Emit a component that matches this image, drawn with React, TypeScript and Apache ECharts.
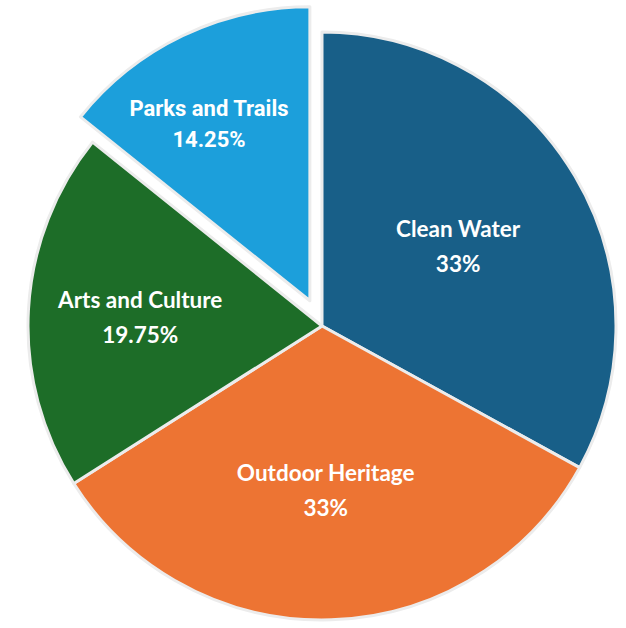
import React, { useEffect, useRef } from "react";
import * as echarts from "echarts";

const categories = ["Clean Water", "Outdoor Heritage", "Arts and Culture", "Parks and Trails"];
const values = [33, 33, 19.75, 14.25];
const colors = ["#185f88", "#ed7433", "#1d6d28", "#1c9fdb"];
const labelFonts = ["Lato", "Lato", "Lato", "Roboto"];
const labelShiftX = [7, -1, -32, -36];
const labelShiftY = [-4, 14, -1, -42];

export default function App() {
  const ref = useRef<HTMLDivElement>(null);
  useEffect(() => {
    if (!ref.current) return;
    const chart = echarts.init(ref.current, undefined, { renderer: "svg" });
    chart.setOption({
      animation: false,
      backgroundColor: "#ffffff",
      series: [
        {
          type: "pie",
          center: [322, 326],
          radius: [0, 294],
          startAngle: 90,
          clockwise: true,
          selectedMode: "single",
          selectedOffset: 28,
          avoidLabelOverlap: false,
          itemStyle: { borderColor: "#ececec", borderWidth: 3 },
          emphasis: { disabled: true },
          labelLine: { show: false },
          labelLayout: (p: any) => ({
            dx: labelShiftX[p.dataIndex],
            dy: labelShiftY[p.dataIndex],
          }),
          data: categories.map((name, i) => ({
            name,
            value: values[i],
            selected: i === 3,
            itemStyle: { color: colors[i] },
            label: {
              show: true,
              position: "inside",
              formatter: "{b}\n{c}%",
              color: "#ffffff",
              fontFamily: labelFonts[i],
              fontWeight: "bold",
              fontSize: i === 3 ? 22 : 22.5,
              lineHeight: i === 3 ? 31 : 35,
              align: "center",
            },
          })),
        },
      ],
    });
    return () => chart.dispose();
  }, []);
  return (
    <div
      ref={ref}
      style={{ position: "absolute", left: 0, top: 0, width: 626, height: 628 }}
    />
  );
}
